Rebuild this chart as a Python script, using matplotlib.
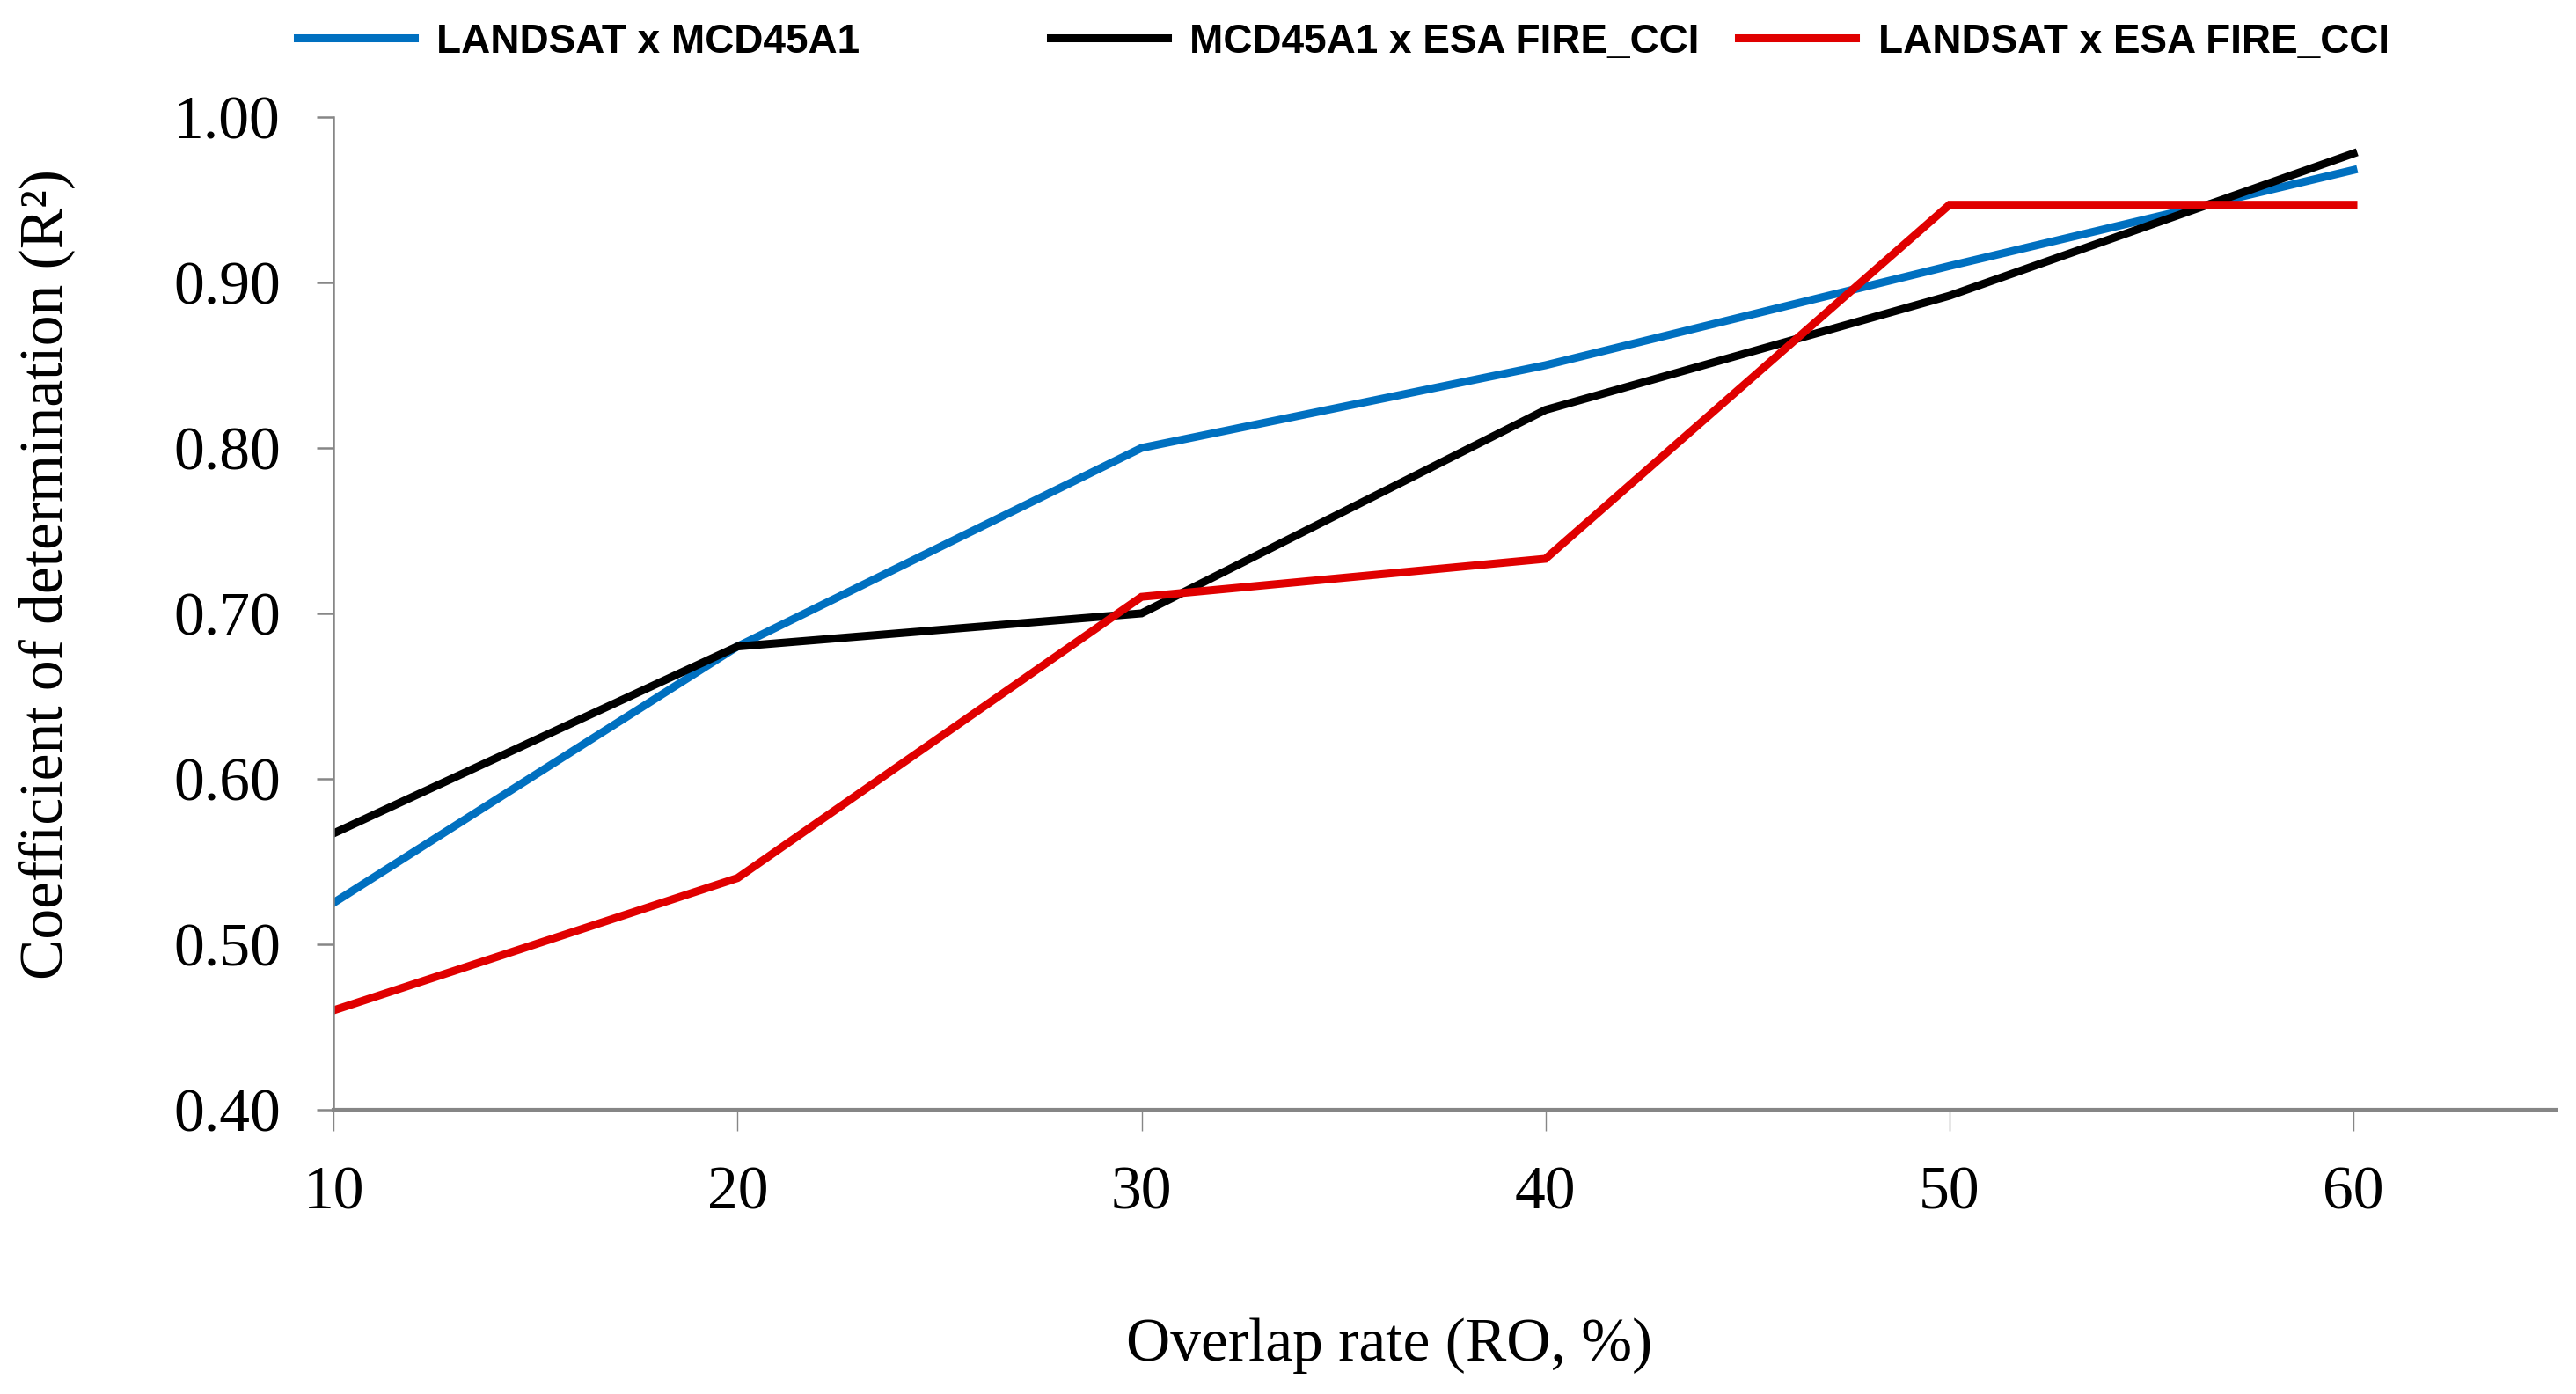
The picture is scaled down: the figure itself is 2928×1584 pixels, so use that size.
import matplotlib
matplotlib.use('Agg')
from matplotlib import pyplot as plt

overlap = [10, 20, 30, 40, 50, 60]
landsat_mcd = [0.525, 0.68, 0.80, 0.85, 0.91, 0.968]
mcd_esa = [0.567, 0.68, 0.70, 0.823, 0.892, 0.978]
landsat_esa = [0.46, 0.54, 0.71, 0.733, 0.947, 0.947]
names = ['LANDSAT x MCD45A1', 'MCD45A1 x ESA FIRE_CCI', 'LANDSAT x ESA FIRE_CCI']
colors = ['#0070C0', '#000000', '#E00000']
yticks = [0.40, 0.50, 0.60, 0.70, 0.80, 0.90, 1.00]

serif = ['Liberation Serif', 'DejaVu Serif']
legend_font = {'family': ['Liberation Sans Narrow', 'Liberation Sans', 'DejaVu Sans'],
               'weight': 'bold', 'size': 33}

fig = plt.figure(figsize=(29.28, 15.84), dpi=100)
ax = fig.add_axes([0.1295, 0.204, 0.8625, 0.712])

lines = []
for vals, col in zip([landsat_mcd, mcd_esa, landsat_esa], colors):
    ln, = ax.plot(overlap, vals, color=col, lw=6.5, solid_joinstyle='miter')
    lines.append(ln)

ax.set_xlim(10, 65)
ax.set_ylim(0.40, 1.00)
ax.set_xticks(overlap)
ax.set_yticks(yticks)
ax.set_yticklabels([f'{v:.2f}' for v in yticks])

for s in ['top', 'right']:
    ax.spines[s].set_visible(False)
ax.spines['left'].set_color('#868686')
ax.spines['left'].set_linewidth(1.8)
ax.spines['bottom'].set_color('#868686')
ax.spines['bottom'].set_linewidth(3)

ax.tick_params(axis='x', direction='out', length=17, width=1, color='#868686',
               pad=29, labelsize=50)
ax.tick_params(axis='y', direction='out', length=13.5, width=1.8, color='#868686',
               pad=30, labelsize=50)
for lab in ax.get_xticklabels() + ax.get_yticklabels():
    lab.set_family(serif)

ax.set_xlabel('Overlap rate (RO, %)', family=serif, fontsize=50, va='center')
ax.set_ylabel('Coefficient of determination (R²)', family=serif, fontsize=50, va='center')
ax.xaxis.set_label_coords(0.475, -0.238)
ax.yaxis.set_label_coords(-0.129, 0.539)

# legend entries placed one by one, like the original layout
leg_x = [0.1154, 0.4077, 0.675]
for ln, name, x in zip(lines, names, leg_x):
    fig.legend([ln], [name], loc='center left', bbox_to_anchor=(x, 0.97),
               frameon=False, prop=legend_font, borderpad=0, borderaxespad=0,
               handlelength=2.9, handletextpad=0.55)

fig.savefig('out.png', dpi=100)
